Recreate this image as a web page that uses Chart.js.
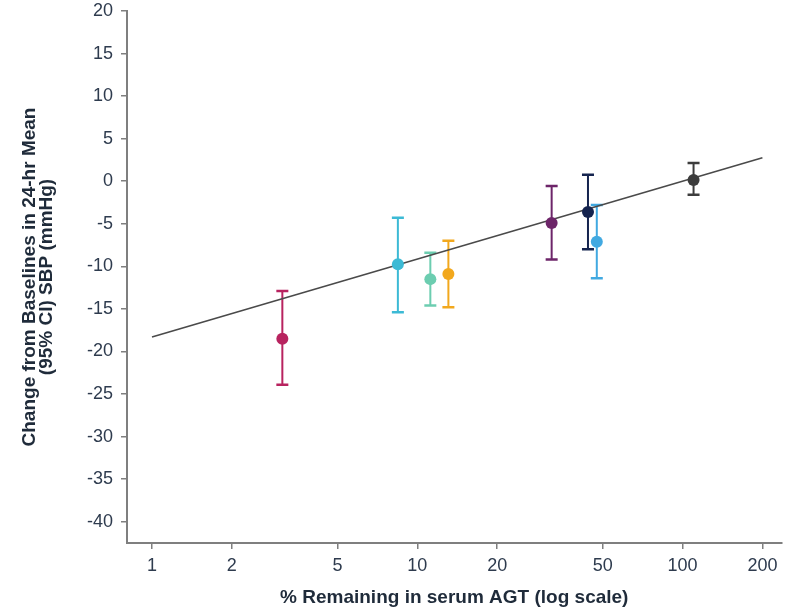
<!DOCTYPE html>
<html>
<head>
<meta charset="utf-8">
<script src="https://cdn.jsdelivr.net/npm/chart.js@4/dist/chart.umd.min.js"></script>
<style>
  html, body { margin: 0; padding: 0; background: #fff; }
</style>
</head>
<body>
<canvas id="chart" width="790" height="609"></canvas>
<script>
// Values
const agtRemaining = [3.1, 8.45, 11.2, 13.1, 32.1, 44, 47.5, 110];
const sbpMean      = [-18.5, -9.75, -11.5, -10.9, -4.9, -3.6, -7.1, 0.15];
const ciLower      = [-23.9, -15.4, -14.6, -14.8, -9.2, -8.0, -11.4, -1.6];
const ciUpper      = [-12.9, -4.3, -8.4, -7.0, -0.55, 0.75, -2.8, 2.15];
const pointColors  = ['#b8235f', '#3cbad5', '#6ccdb0', '#f2a81d', '#6d2569', '#15244f', '#41a9e1', '#3c3c3c'];

const fitX = [1, 200];
const fitY = [-18.3, 2.75];

const xTicks = [1, 2, 5, 10, 20, 50, 100, 200];
const yTicks = [-40, -35, -30, -25, -20, -15, -10, -5, 0, 5, 10, 15, 20];

const axisGray = '#7f7f7f';
const tickColor = '#2e3b4e';
const titleColor = '#1f2b3a';
const font = 'Liberation Sans, Arial, Helvetica, sans-serif';

const datasets = [];

// mean points, drawn on top
datasets.push({
  type: 'scatter',
  data: agtRemaining.map((x, i) => ({x, y: sbpMean[i]})),
  backgroundColor: pointColors,
  borderWidth: 0,
  pointRadius: 6
});

// regression line
datasets.push({
  type: 'line',
  data: fitX.map((x, i) => ({x, y: fitY[i]})),
  borderColor: '#4a4a4a',
  borderWidth: 1.6,
  pointRadius: 0
});

// error bars, caps use the 'line' point style
agtRemaining.forEach((x, i) => {
  datasets.push({
    type: 'line',
    data: [{x, y: ciLower[i]}, {x, y: ciUpper[i]}],
    borderColor: pointColors[i],
    borderWidth: 2,
    pointStyle: 'line',
    pointRadius: 6,
    pointBorderWidth: 2.5,
    pointBorderColor: pointColors[i]
  });
});

new Chart(document.getElementById('chart').getContext('2d'), {
  type: 'scatter',
  data: {datasets},
  options: {
    responsive: false,
    animation: false,
    layout: {padding: {top: 11, right: 0, bottom: 0, left: 0}},
    plugins: {
      legend: {display: false},
      tooltip: {enabled: false}
    },
    scales: {
      x: {
        type: 'logarithmic',
        min: 0.805,
        max: 236,
        afterBuildTicks: (scale) => { scale.ticks = xTicks.map(v => ({value: v})); },
        afterFit: (scale) => {
          scale.height = 66;
          scale.paddingLeft = 0;
          scale.paddingRight = 0;
        },
        ticks: {
          color: tickColor,
          font: {family: font, size: 18},
          padding: 6,
          maxRotation: 0,
          autoSkip: false,
          callback: (v) => String(v)
        },
        grid: {display: true, drawOnChartArea: false, drawTicks: true, tickLength: 6, color: axisGray, lineWidth: 1.5},
        border: {display: true, color: axisGray, width: 2},
        title: {
          display: true,
          text: '% Remaining in serum AGT (log scale)',
          color: titleColor,
          font: {family: font, size: 19, weight: 'bold'},
          padding: {top: 0, bottom: 0}
        }
      },
      y: {
        min: -42.5,
        max: 20,
        afterBuildTicks: (scale) => { scale.ticks = yTicks.map(v => ({value: v})); },
        afterFit: (scale) => {
          scale.width = 127;
          scale.paddingTop = 0;
          scale.paddingBottom = 0;
        },
        ticks: {
          color: tickColor,
          font: {family: font, size: 18},
          padding: 8,
          autoSkip: false,
          callback: (v) => String(v)
        },
        grid: {display: true, drawOnChartArea: false, drawTicks: true, tickLength: 6, color: axisGray, lineWidth: 1.5},
        border: {display: true, color: axisGray, width: 2},
        title: {
          display: true,
          text: ['Change from Baselines in 24-hr Mean', '(95% CI) SBP (mmHg)'],
          color: titleColor,
          font: {family: font, size: 19, weight: 'bold', lineHeight: 0.9},
          padding: {top: 21.5, bottom: 0}
        }
      }
    }
  }
});
</script>
</body>
</html>
